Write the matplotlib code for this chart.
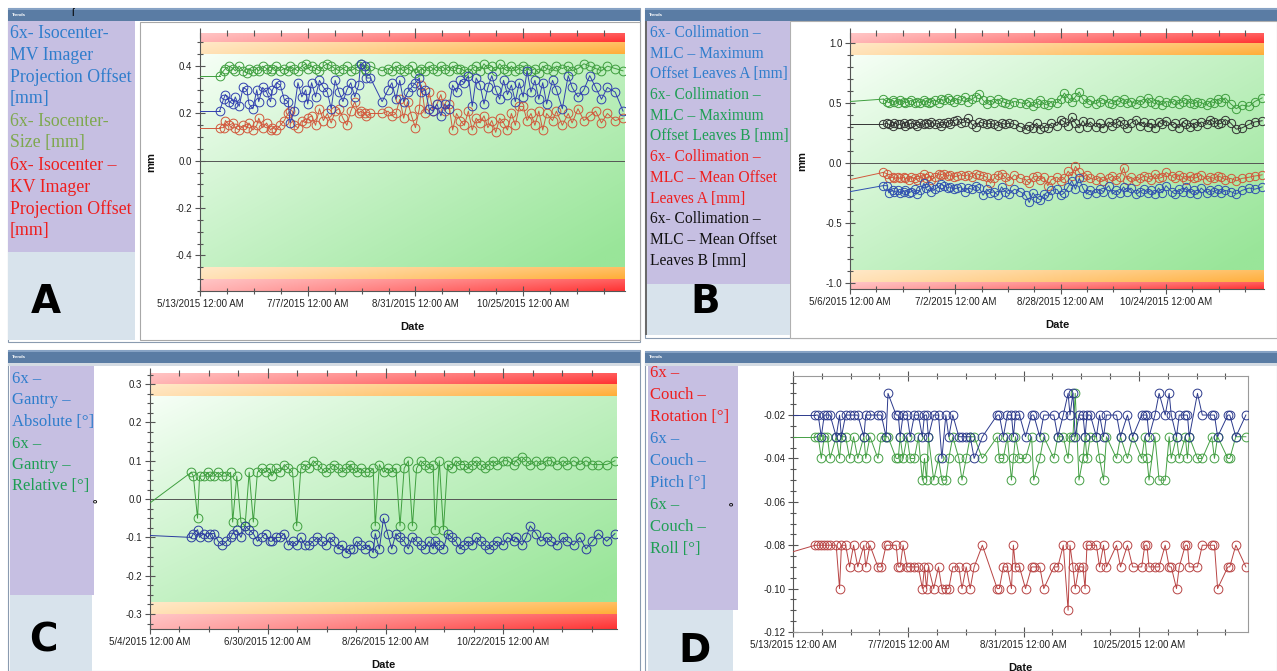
import numpy as np
import matplotlib
matplotlib.use("Agg")
import matplotlib.pyplot as plt
from matplotlib.patches import Rectangle
from matplotlib.ticker import MultipleLocator, FixedLocator, FixedFormatter

plt.rcParams['axes.unicode_minus'] = False
plt.rcParams['font.family'] = ['Liberation Sans', 'DejaVu Sans']

# ------------------------------------------------------------------ data
# Panel A : 6x Isocenter (days after 5/13/2015)
A_days = [10, 12, 13, 15, 17, 18, 20, 22, 24, 25,
          27, 29, 30, 32, 34, 36, 37, 39, 41, 43,
          45, 46, 48, 50, 52, 54, 55, 57, 59, 61,
          63, 65, 67, 69, 71, 73, 75, 77, 79, 81,
          82, 84, 85, 87, 93, 96, 98, 100, 102, 104,
          106, 108, 110, 112, 113, 115, 117, 119, 121, 123,
          125, 127, 129, 131, 133, 135, 137, 139, 141, 143,
          145, 147, 149, 151, 153, 155, 157, 159, 161, 163,
          165, 167, 169, 171, 173, 175, 177, 180, 182, 185,
          188, 190, 193, 196, 199, 202, 205, 208, 212, 216]
A_mv = [0.21, 0.26, 0.28, 0.25, 0.24, 0.27, 0.23, 0.31, 0.30, 0.24,
        0.22, 0.30, 0.25, 0.31, 0.29, 0.25, 0.30, 0.33, 0.32, 0.26,
        0.25, 0.16, 0.21, 0.33, 0.27, 0.30, 0.24, 0.33, 0.27, 0.34,
        0.31, 0.29, 0.22, 0.34, 0.29, 0.25, 0.30, 0.33, 0.27, 0.32,
        0.41, 0.40, 0.35, 0.35, 0.25, 0.30, 0.33, 0.26, 0.34, 0.25,
        0.29, 0.31, 0.33, 0.35, 0.29, 0.30, 0.22, 0.21, 0.24, 0.19,
        0.24, 0.22, 0.32, 0.29, 0.34, 0.33, 0.36, 0.23, 0.35, 0.32,
        0.24, 0.31, 0.36, 0.30, 0.26, 0.34, 0.28, 0.32, 0.25, 0.33,
        0.27, 0.38, 0.29, 0.34, 0.26, 0.33, 0.24, 0.34, 0.30, 0.22,
        0.36, 0.31, 0.27, 0.30, 0.36, 0.31, 0.26, 0.31, 0.29, 0.21]
A_kv = [0.14, 0.14, 0.17, 0.15, 0.16, 0.14, 0.13, 0.15, 0.14, 0.16,
        0.13, 0.15, 0.18, 0.14, 0.16, 0.13, 0.14, 0.13, 0.15, 0.17,
        0.20, 0.21, 0.15, 0.14, 0.17, 0.16, 0.18, 0.19, 0.15, 0.22,
        0.17, 0.20, 0.16, 0.21, 0.22, 0.18, 0.15, 0.21, 0.25, 0.20,
        0.21, 0.20, 0.19, 0.20, 0.20, 0.21, 0.19, 0.20, 0.26, 0.18,
        0.25, 0.19, 0.14, 0.22, 0.32, 0.20, 0.29, 0.21, 0.24, 0.28,
        0.21, 0.24, 0.13, 0.20, 0.17, 0.15, 0.21, 0.13, 0.18, 0.16,
        0.19, 0.14, 0.17, 0.12, 0.18, 0.16, 0.13, 0.20, 0.15, 0.23,
        0.23, 0.17, 0.20, 0.15, 0.21, 0.13, 0.20, 0.17, 0.21, 0.15,
        0.20, 0.16, 0.22, 0.17, 0.19, 0.21, 0.16, 0.20, 0.17, 0.18]
A_size = [0.36, 0.38, 0.39, 0.40, 0.39, 0.38, 0.40, 0.38, 0.37, 0.39,
          0.38, 0.39, 0.38, 0.40, 0.39, 0.38, 0.39, 0.40, 0.38, 0.39,
          0.38, 0.40, 0.39, 0.38, 0.40, 0.41, 0.39, 0.40, 0.39, 0.38,
          0.40, 0.41, 0.40, 0.39, 0.38, 0.39, 0.40, 0.38, 0.39, 0.40,
          0.41, 0.39, 0.38, 0.40, 0.38, 0.39, 0.38, 0.40, 0.39, 0.38,
          0.39, 0.40, 0.37, 0.38, 0.39, 0.38, 0.40, 0.39, 0.38, 0.40,
          0.39, 0.38, 0.40, 0.39, 0.39, 0.38, 0.37, 0.39, 0.40, 0.38,
          0.41, 0.39, 0.40, 0.38, 0.41, 0.39, 0.38, 0.40, 0.38, 0.39,
          0.40, 0.39, 0.38, 0.39, 0.37, 0.40, 0.39, 0.38, 0.40, 0.39,
          0.40, 0.38, 0.39, 0.41, 0.40, 0.39, 0.38, 0.40, 0.39, 0.38]
A_start = {'mv': 0.21, 'kv': 0.14, 'size': 0.36}

# Panel B : MLC collimation (days after 5/6/2015)
B_days = [18, 20, 21, 23, 24, 26, 27, 29, 30, 32,
          33, 35, 36, 38, 40, 41, 43, 44, 46, 48,
          49, 51, 53, 54, 56, 58, 60, 62, 64, 66,
          68, 70, 72, 74, 76, 78, 80, 82, 84, 86,
          89, 92, 95, 97, 99, 101, 103, 105, 107, 109,
          112, 114, 116, 118, 120, 122, 124, 126, 128, 130,
          133, 135, 137, 140, 142, 144, 146, 148, 150, 152,
          155, 157, 159, 161, 163, 165, 167, 169, 171, 174,
          176, 178, 180, 182, 184, 186, 188, 190, 193, 195,
          197, 199, 201, 203, 206, 209, 212, 216, 219, 223]
B_max_b = [0.53, 0.51, 0.50, 0.52, 0.51, 0.50, 0.52, 0.51, 0.50, 0.51,
           0.52, 0.50, 0.51, 0.50, 0.52, 0.51, 0.50, 0.51, 0.52, 0.50,
           0.53, 0.52, 0.54, 0.52, 0.51, 0.53, 0.52, 0.55, 0.51, 0.53,
           0.55, 0.57, 0.52, 0.49, 0.52, 0.50, 0.53, 0.51, 0.50, 0.49,
           0.51, 0.50, 0.49, 0.51, 0.47, 0.50, 0.52, 0.49, 0.48, 0.51,
           0.50, 0.53, 0.58, 0.54, 0.51, 0.55, 0.59, 0.53, 0.50, 0.52,
           0.49, 0.51, 0.53, 0.50, 0.49, 0.52, 0.51, 0.53, 0.50, 0.51,
           0.49, 0.52, 0.50, 0.54, 0.51, 0.49, 0.52, 0.48, 0.51, 0.50,
           0.52, 0.49, 0.51, 0.53, 0.50, 0.49, 0.51, 0.50, 0.48, 0.51,
           0.50, 0.53, 0.51, 0.54, 0.49, 0.45, 0.48, 0.47, 0.51, 0.54]
B_mean_b = [0.32, 0.33, 0.32, 0.31, 0.33, 0.32, 0.32, 0.33, 0.31, 0.32,
            0.33, 0.32, 0.31, 0.33, 0.32, 0.33, 0.32, 0.34, 0.32, 0.33,
            0.31, 0.33, 0.34, 0.32, 0.35, 0.36, 0.33, 0.34, 0.37, 0.32,
            0.30, 0.34, 0.33, 0.32, 0.33, 0.32, 0.31, 0.33, 0.32, 0.33,
            0.32, 0.30, 0.28, 0.31, 0.29, 0.33, 0.28, 0.30, 0.29, 0.33,
            0.31, 0.36, 0.34, 0.31, 0.38, 0.33, 0.29, 0.35, 0.30, 0.34,
            0.30, 0.33, 0.29, 0.34, 0.31, 0.33, 0.35, 0.32, 0.29, 0.33,
            0.36, 0.31, 0.34, 0.30, 0.33, 0.29, 0.34, 0.32, 0.35, 0.31,
            0.33, 0.29, 0.34, 0.32, 0.30, 0.33, 0.31, 0.34, 0.32, 0.36,
            0.34, 0.32, 0.33, 0.36, 0.33, 0.28, 0.29, 0.32, 0.34, 0.35]
B_mean_a = [-0.08, -0.09, -0.13, -0.12, -0.13, -0.12, -0.13, -0.12, -0.13, -0.14,
            -0.12, -0.13, -0.14, -0.12, -0.09, -0.13, -0.11, -0.14, -0.12, -0.09,
            -0.10, -0.09, -0.11, -0.10, -0.12, -0.11, -0.10, -0.11, -0.10, -0.12,
            -0.09, -0.10, -0.11, -0.12, -0.17, -0.13, -0.10, -0.09, -0.12, -0.15,
            -0.10, -0.13, -0.14, -0.17, -0.12, -0.11, -0.14, -0.12, -0.19, -0.14,
            -0.12, -0.15, -0.13, -0.07, -0.11, -0.03, -0.08, -0.12, -0.10, -0.13,
            -0.14, -0.12, -0.15, -0.13, -0.11, -0.14, -0.12, -0.04, -0.14, -0.12,
            -0.15, -0.13, -0.11, -0.12, -0.14, -0.09, -0.13, -0.12, -0.08, -0.11,
            -0.13, -0.10, -0.12, -0.14, -0.11, -0.13, -0.12, -0.10, -0.14, -0.12,
            -0.13, -0.11, -0.12, -0.14, -0.13, -0.15, -0.13, -0.12, -0.11, -0.10]
B_max_a = [-0.19, -0.19, -0.25, -0.23, -0.24, -0.23, -0.25, -0.24, -0.23, -0.25,
           -0.24, -0.22, -0.26, -0.23, -0.17, -0.21, -0.19, -0.24, -0.22, -0.20,
           -0.18, -0.19, -0.21, -0.20, -0.22, -0.21, -0.20, -0.24, -0.21, -0.22,
           -0.19, -0.21, -0.27, -0.22, -0.25, -0.24, -0.27, -0.20, -0.24, -0.26,
           -0.22, -0.24, -0.27, -0.33, -0.25, -0.29, -0.31, -0.26, -0.28, -0.23,
           -0.22, -0.27, -0.25, -0.20, -0.15, -0.22, -0.13, -0.21, -0.26, -0.23,
           -0.25, -0.22, -0.24, -0.19, -0.26, -0.23, -0.25, -0.20, -0.24, -0.21,
           -0.26, -0.24, -0.22, -0.25, -0.23, -0.26, -0.21, -0.25, -0.19, -0.24,
           -0.26, -0.22, -0.24, -0.20, -0.25, -0.23, -0.26, -0.21, -0.25, -0.23,
           -0.24, -0.22, -0.25, -0.23, -0.24, -0.26, -0.23, -0.21, -0.22, -0.20]
B_start = {'max_b': 0.51, 'mean_b': 0.32, 'mean_a': -0.14, 'max_a': -0.24}

# Panel C : Gantry (days after 5/4/2015)
C_days = [20, 21, 23, 24, 26, 28, 29, 31, 33, 35,
          37, 39, 40, 42, 44, 46, 48, 50, 52, 54,
          56, 58, 59, 61, 63, 65, 67, 69, 71, 73,
          75, 77, 79, 81, 83, 85, 87, 89, 91, 93,
          95, 97, 98, 100, 102, 104, 106, 108, 109, 111,
          113, 115, 117, 119, 121, 123, 125, 127, 129, 131,
          133, 135, 137, 138, 140, 142, 144, 146, 148, 150,
          152, 154, 156, 158, 160, 162, 164, 166, 168, 171,
          173, 176, 177, 180, 182, 184, 187, 189, 192, 194,
          197, 200, 202, 205, 208, 211, 214, 217, 221, 225]
C_relative = [0.07, 0.06, -0.05, 0.06, 0.06, 0.07, 0.06, 0.06, 0.07, 0.06,
              0.06, 0.07, -0.06, 0.06, -0.06, -0.07, 0.07, -0.06, 0.07, 0.08,
              0.07, 0.08, 0.06, 0.08, 0.07, 0.09, 0.08, 0.07, -0.07, 0.08,
              0.09, 0.08, 0.10, 0.09, 0.08, 0.07, 0.08, 0.09, 0.08, 0.07,
              0.08, 0.09, 0.08, 0.07, 0.08, 0.07, 0.07, 0.08, -0.07, 0.09,
              0.07, 0.08, 0.07, 0.08, -0.07, 0.08, 0.10, -0.07, 0.08, 0.10,
              0.09, 0.08, 0.09, -0.08, 0.10, -0.08, 0.09, 0.08, 0.10, 0.09,
              0.09, 0.08, 0.09, 0.10, 0.09, 0.08, 0.09, 0.10, 0.09, 0.10,
              0.10, 0.09, 0.10, 0.11, 0.10, 0.09, 0.10, 0.09, 0.10, 0.10,
              0.09, 0.10, 0.09, 0.10, 0.09, 0.10, 0.09, 0.09, 0.09, 0.10]
C_absolute = [-0.10, -0.09, -0.08, -0.10, -0.09, -0.10, -0.09, -0.09, -0.11, -0.12,
              -0.11, -0.10, -0.09, -0.08, -0.10, -0.07, -0.08, -0.09, -0.11, -0.10,
              -0.09, -0.11, -0.11, -0.10, -0.10, -0.09, -0.12, -0.11, -0.12, -0.10,
              -0.12, -0.12, -0.11, -0.10, -0.11, -0.12, -0.10, -0.11, -0.13, -0.12,
              -0.14, -0.13, -0.13, -0.11, -0.12, -0.13, -0.12, -0.14, -0.09, -0.13,
              -0.05, -0.09, -0.13, -0.09, -0.10, -0.11, -0.13, -0.10, -0.11, -0.12,
              -0.13, -0.11, -0.13, -0.11, -0.12, -0.13, -0.09, -0.10, -0.11, -0.13,
              -0.12, -0.11, -0.12, -0.10, -0.11, -0.12, -0.13, -0.12, -0.11, -0.12,
              -0.10, -0.11, -0.10, -0.12, -0.10, -0.07, -0.09, -0.11, -0.10, -0.11,
              -0.12, -0.10, -0.11, -0.12, -0.10, -0.13, -0.11, -0.09, -0.11, -0.09]
C_start = {'relative': -0.01, 'absolute': -0.095}

# Panel D : Couch (days after 5/13/2015)
D_days = [10.6, 12.0, 13.5, 14.9, 16.4, 17.7, 20.6, 22.2, 23.1, 25.1,
          27.0, 28.9, 30.9, 33.8, 34.7, 36.7, 40.5, 42.1, 44.4, 45.3,
          49.2, 50.2, 51.1, 52.5, 54.4, 55.9, 57.9, 59.8, 61.7, 62.7,
          63.7, 64.6, 67.1, 69.4, 71.0, 72.9, 74.3, 76.2, 79.1, 80.6,
          82.6, 84.5, 86.4, 90.3, 97.4, 98.4, 100.3, 102.2, 104.2, 105.1,
          106.1, 108.0, 110.9, 113.8, 114.8, 117.7, 119.6, 124.4, 126.3, 128.9,
          131.2, 132.1, 133.5, 134.6, 136.4, 138.3, 139.3, 140.2, 141.8, 144.7,
          146.2, 148.1, 149.5, 154.3, 156.2, 159.5, 162.0, 166.3, 167.8, 168.8,
          169.8, 172.6, 174.6, 177.5, 179.4, 180.4, 182.9, 184.2, 187.1, 188.1,
          189.0, 192.9, 195.2, 199.7, 201.0, 202.5, 207.4, 208.3, 211.2, 216.0]
D_rotation = [-0.08, -0.08, -0.08, -0.08, -0.08, -0.08, -0.08, -0.10, -0.08, -0.08,
              -0.09, -0.08, -0.09, -0.08, -0.09, -0.08, -0.09, -0.09, -0.08, -0.08,
              -0.08, -0.09, -0.09, -0.08, -0.09, -0.09, -0.09, -0.09, -0.10, -0.09,
              -0.10, -0.09, -0.10, -0.09, -0.10, -0.10, -0.10, -0.09, -0.09, -0.10,
              -0.09, -0.10, -0.09, -0.08, -0.10, -0.10, -0.09, -0.09, -0.10, -0.08,
              -0.09, -0.09, -0.10, -0.09, -0.09, -0.09, -0.10, -0.09, -0.09, -0.08,
              -0.11, -0.08, -0.09, -0.10, -0.09, -0.09, -0.10, -0.08, -0.08, -0.08,
              -0.09, -0.08, -0.09, -0.08, -0.09, -0.08, -0.09, -0.09, -0.08, -0.08,
              -0.09, -0.09, -0.09, -0.08, -0.09, -0.09, -0.10, -0.09, -0.08, -0.08,
              -0.09, -0.09, -0.08, -0.08, -0.08, -0.10, -0.09, -0.09, -0.08, -0.09]
D_pitch = [-0.02, -0.02, -0.03, -0.02, -0.02, -0.02, -0.03, -0.02, -0.03, -0.02,
           -0.02, -0.02, -0.02, -0.03, -0.02, -0.02, -0.02, -0.02, -0.03, -0.01,
           -0.02, -0.02, -0.03, -0.02, -0.02, -0.03, -0.02, -0.02, -0.03, -0.02,
           -0.02, -0.03, -0.02, -0.02, -0.04, -0.02, -0.03, -0.02, -0.03, -0.03,
           -0.03, -0.03, -0.04, -0.03, -0.02, -0.02, -0.03, -0.02, -0.02, -0.03,
           -0.02, -0.02, -0.03, -0.02, -0.02, -0.03, -0.02, -0.02, -0.03, -0.02,
           -0.01, -0.02, -0.01, -0.03, -0.02, -0.02, -0.03, -0.02, -0.02, -0.03,
           -0.02, -0.03, -0.02, -0.02, -0.03, -0.02, -0.03, -0.02, -0.02, -0.02,
           -0.03, -0.02, -0.01, -0.02, -0.01, -0.02, -0.03, -0.02, -0.02, -0.02,
           -0.03, -0.01, -0.02, -0.02, -0.02, -0.03, -0.02, -0.02, -0.03, -0.02]
D_roll = [-0.03, -0.03, -0.04, -0.03, -0.03, -0.04, -0.03, -0.04, -0.03, -0.03,
          -0.04, -0.03, -0.04, -0.03, -0.04, -0.03, -0.04, -0.03, -0.03, -0.03,
          -0.04, -0.04, -0.03, -0.04, -0.03, -0.04, -0.04, -0.03, -0.05, -0.04,
          -0.05, -0.03, -0.05, -0.04, -0.05, -0.05, -0.04, -0.03, -0.04, -0.05,
          -0.04, -0.03, -0.03, -0.04, -0.03, -0.04, -0.04, -0.03, -0.05, -0.04,
          -0.03, -0.04, -0.04, -0.03, -0.05, -0.04, -0.03, -0.04, -0.03, -0.03,
          -0.04, -0.03, -0.03, -0.01, -0.05, -0.04, -0.03, -0.04, -0.03, -0.03,
          -0.04, -0.05, -0.03, -0.04, -0.03, -0.04, -0.03, -0.04, -0.03, -0.04,
          -0.05, -0.03, -0.05, -0.05, -0.03, -0.04, -0.03, -0.04, -0.03, -0.04,
          -0.03, -0.04, -0.04, -0.03, -0.04, -0.03, -0.04, -0.04, -0.03, -0.03]
D_start = {'rotation': -0.083, 'pitch': -0.02, 'roll': -0.03}

# tick labels
A_xlabels = ['5/13/2015 12:00 AM', '7/7/2015 12:00 AM', '8/31/2015 12:00 AM', '10/25/2015 12:00 AM']
B_xlabels = ['5/6/2015 12:00 AM', '7/2/2015 12:00 AM', '8/28/2015 12:00 AM', '10/24/2015 12:00 AM']
C_xlabels = ['5/4/2015 12:00 AM', '6/30/2015 12:00 AM', '8/26/2015 12:00 AM', '10/22/2015 12:00 AM']
D_xlabels = ['5/13/2015 12:00 AM', '7/7/2015 12:00 AM', '8/31/2015 12:00 AM', '10/25/2015 12:00 AM']
A_yticks = [-0.4, -0.2, 0.0, 0.2, 0.4]
B_yticks = [-1.0, -0.5, 0.0, 0.5, 1.0]
C_yticks = [-0.3, -0.2, -0.1, 0.0, 0.1, 0.2, 0.3]
D_yticks = [-0.12, -0.10, -0.08, -0.06, -0.04, -0.02]

# legend texts
LB, LG, LO, LR, LK = '#2f7dcc', '#1f9e55', '#7ea84e', '#ee1e1e', '#111111'
A_legend = [("6x- Isocenter-", LB), ("MV Imager", LB), ("Projection Offset", LB), ("[mm]", LB),
            ("6x- Isocenter-", LO), ("Size [mm]", LO),
            ("6x- Isocenter \u2013", LR), ("KV Imager", LR), ("Projection Offset", LR), ("[mm]", LR)]
B_legend = [("6x- Collimation \u2013", LB), ("MLC \u2013 Maximum", LB), ("Offset Leaves A [mm]", LB),
            ("6x- Collimation \u2013", LG), ("MLC \u2013 Maximum", LG), ("Offset Leaves B [mm]", LG),
            ("6x- Collimation \u2013", LR), ("MLC \u2013 Mean Offset", LR), ("Leaves A [mm]", LR),
            ("6x- Collimation \u2013", LK), ("MLC \u2013 Mean Offset", LK), ("Leaves B [mm]", LK)]
C_legend = [("6x \u2013", LB), ("Gantry \u2013", LB), ("Absolute [\u00b0]", LB),
            ("6x \u2013", LG), ("Gantry \u2013", LG), ("Relative [\u00b0]", LG)]
D_legend = [("6x \u2013", LR), ("Couch \u2013", LR), ("Rotation [\u00b0]", LR),
            ("6x \u2013", LB), ("Couch \u2013", LB), ("Pitch [\u00b0]", LB),
            ("6x \u2013", LG), ("Couch \u2013", LG), ("Roll [\u00b0]", LG)]

# ------------------------------------------------------------------ layout
W, H = 1277, 671
fig = plt.figure(figsize=(W / 100, H / 100), dpi=100)
fig.patch.set_facecolor('white')

bg = fig.add_axes([0, 0, 1, 1])
bg.set_xlim(0, W)
bg.set_ylim(H, 0)
bg.axis('off')


def frac(x0, y0, x1, y1):
    return [x0 / W, 1 - y1 / H, (x1 - x0) / W, (y1 - y0) / H]


def box(x0, y0, x1, y1, fc, ec='none', lw=0.0, z=1):
    bg.add_patch(Rectangle((x0, y0), x1 - x0, y1 - y0, facecolor=fc,
                           edgecolor=ec, linewidth=lw, zorder=z))


def title_bar(x0, y0, x1, y1):
    box(x0, y0, x1, y1, '#5a7ca4', z=2)
    box(x0, y0, x1, y0 + 1.5, '#86a2c4', z=2)
    bg.text(x0 + 4, (y0 + y1) / 2, 'Trends', color='white', fontsize=3.2,
            fontweight='bold', va='center', ha='left', zorder=3)


def legend(lines, x, y0, step, size):
    for i, (t, c) in enumerate(lines):
        bg.text(x, y0 + i * step, t, color=c, fontsize=size, family='Liberation Serif',
                va='center', ha='left', zorder=3)


def big_letter(x, y, s):
    bg.text(x, y, s, fontsize=28, fontweight='bold', family='DejaVu Sans',
            ha='center', va='center', color='black', zorder=3)


# Panel frames
box(8, 8, 640, 342, 'white', ec='#8a9bb0', lw=0.8)
title_bar(8, 8, 640, 21)
box(8, 21, 135, 252, '#c6bfe2', z=2)
box(8, 252, 135, 340, '#d8e3ec', z=2)
box(140, 22, 640, 340, 'white', ec='#a8a8a8', lw=0.8, z=2)
bg.text(72, 13, '\u017f', fontsize=8, color='black', ha='center', va='center', zorder=4)

box(645, 8, 1277, 338, 'white', ec='#8a9bb0', lw=0.8)
title_bar(645, 8, 1277, 21)
box(790, 21, 1277, 338, 'white', ec='#b0b0b0', lw=0.8, z=2)
box(647, 21, 790, 284, '#c6bfe2', z=2)
box(647, 284, 790, 335, '#d8e3ec', z=2)
box(645, 21, 647, 335, '#6a6a6a', z=2)

box(8, 350, 640, 671, 'white', ec='#8a9bb0', lw=0.8)
title_bar(8, 350, 640, 363)
box(8, 363, 640, 366, '#d4dbe3', z=2)
box(10, 366, 94, 595, '#c6bfe2', z=2)
box(10, 595, 92, 671, '#d8e3ec', z=2)

box(645, 351, 1277, 671, 'white', ec='#8a9bb0', lw=0.8)
title_bar(645, 351, 1277, 363)
box(645, 363, 1277, 366, '#d4dbe3', z=2)
box(648, 366, 738, 610, '#c6bfe2', z=2)
box(648, 610, 733, 671, '#d8e3ec', z=2)

legend(A_legend, 10, 33, 22.0, 12.8)
legend(B_legend, 650, 33, 20.7, 11.2)
legend(C_legend, 12, 379, 21.5, 12)
legend(D_legend, 650, 373, 22.0, 12)

big_letter(46, 302, 'A')
big_letter(705, 302, 'B')
big_letter(43, 640, 'C')
big_letter(695, 651, 'D')

# ------------------------------------------------------------------ plot helpers
RED = np.array([1.0, 0.20, 0.20])
ORANGE = np.array([1.0, 0.68, 0.22])


def gradient_bg(ax, x0, x1, y0, y1):
    nx, ny = 256, 128
    u = np.linspace(0, 1, nx)[None, :, None]
    v = np.linspace(0, 1, ny)[:, None, None]
    t = np.clip(0.55 * u + 0.5 * v, 0, 1) ** 0.9
    top = np.array([0.97, 1.0, 0.97])
    end = np.array([0.60, 0.90, 0.60])
    img = top * (1 - t) + end * t
    ax.imshow(img, extent=[x0, x1, y0, y1], origin='upper', aspect='auto',
              zorder=0, interpolation='bilinear')


def band(ax, x0, x1, y0, y1, col):
    nx, ny = 256, 24
    u = np.linspace(0, 1, nx)[None, :, None]
    w = np.linspace(0, 1, ny)[:, None, None]
    s = (0.36 + 0.64 * u) * (0.78 + 0.22 * w)
    img = np.ones(3) * (1 - s) + col * s
    ax.imshow(img, extent=[x0, x1, y0, y1], origin='upper', aspect='auto',
              zorder=0, interpolation='bilinear')


def make_axes(rect, xmax, ylim, yticks, yfmt, minor_y, xstep, xlabels,
              ylabel, ylab_x, bands=None):
    ax = fig.add_axes(frac(*rect))
    ylo, yhi = ylim
    if bands is not None:
        inner_o, inner_r = bands
        gradient_bg(ax, 0, xmax, -inner_o, inner_o)
        band(ax, 0, xmax, inner_o, inner_r, ORANGE)
        band(ax, 0, xmax, inner_r, yhi, RED)
        band(ax, 0, xmax, -inner_r, -inner_o, ORANGE)
        band(ax, 0, xmax, ylo, -inner_r, RED)
        ax.axhline(0, color='#555555', lw=0.7, zorder=1)
        for s in ('top', 'right'):
            ax.spines[s].set_visible(False)
        for s in ('left', 'bottom'):
            ax.spines[s].set_color('#555555')
            ax.spines[s].set_linewidth(0.8)
    else:
        ax.set_facecolor('white')
        for s in ('top', 'right', 'bottom'):
            ax.spines[s].set_color('#9a9a9a')
            ax.spines[s].set_linewidth(0.8)
        ax.spines['left'].set_color('#555555')
    ax.set_xlim(0, xmax)
    ax.set_ylim(ylo, yhi)
    ax.yaxis.set_major_locator(FixedLocator(yticks))
    ax.yaxis.set_major_formatter(FixedFormatter([yfmt % v for v in yticks]))
    ax.yaxis.set_minor_locator(MultipleLocator(minor_y))
    xt = [xstep * i for i in range(len(xlabels))]
    ax.xaxis.set_major_locator(FixedLocator(xt))
    ax.xaxis.set_major_formatter(FixedFormatter(xlabels))
    ax.xaxis.set_minor_locator(MultipleLocator(xstep / 4))
    ax.tick_params(which='both', direction='inout', top=True, color='#555555',
                   width=0.8, labelsize=7, labelcolor='#222222')
    ax.tick_params(which='major', length=7, pad=2)
    ax.tick_params(which='minor', length=4)
    ax.set_xlabel('Date', fontsize=8, fontweight='bold', color='#111111')
    ax.xaxis.set_label_coords(0.5, -0.12)
    ax.set_ylabel(ylabel, fontsize=8, fontweight='bold', color='#111111')
    ax.yaxis.set_label_coords(ylab_x, 0.5)
    return ax


def series(ax, days, vals, start, color, ms=6.3):
    ax.plot([0, days[0]], [start, vals[0]], color=color, lw=0.7, zorder=3)
    ax.plot(days, vals, color=color, lw=0.7, marker='o', ms=ms, mfc='none',
            mec=color, mew=0.7, zorder=3)


# ------------------------------------------------------------------ panels
axA = make_axes((200, 33, 625, 291), 217, (-0.55, 0.54), A_yticks, '%.1f', 0.05,
                55, A_xlabels, 'mm', -0.104, bands=(0.45, 0.50))
series(axA, A_days, A_size, A_start['size'], '#3f9f3f')
series(axA, A_days, A_kv, A_start['kv'], '#d2583c')
series(axA, A_days, A_mv, A_start['mv'], '#3240b0')

axB = make_axes((850, 33, 1264, 289), 224, (-1.05, 1.08), B_yticks, '%.1f', 0.1,
                57, B_xlabels, 'mm', -0.104, bands=(0.9, 1.0))
series(axB, B_days, B_max_b, B_start['max_b'], '#3f9f3f', ms=6)
series(axB, B_days, B_mean_b, B_start['mean_b'], '#333333', ms=6)
series(axB, B_days, B_mean_a, B_start['mean_a'], '#d2583c', ms=6)
series(axB, B_days, B_max_a, B_start['max_a'], '#3050b0', ms=6)

axC = make_axes((150, 373, 617, 629), 226, (-0.339, 0.329), C_yticks, '%.1f', 0.025,
                57, C_xlabels, '\u00b0', -0.098, bands=(0.27, 0.30))
series(axC, C_days, C_relative, C_start['relative'], '#3f9f3f')
series(axC, C_days, C_absolute, C_start['absolute'], '#2a3aa0')

axD = make_axes((793, 376, 1248, 632), 217, (-0.12, -0.002), D_yticks, '%.2f', 0.005,
                55, D_xlabels, '\u00b0', -0.115, bands=None)
series(axD, D_days, D_roll, D_start['roll'], '#45a045')
series(axD, D_days, D_pitch, D_start['pitch'], '#2c3a8c')
series(axD, D_days, D_rotation, D_start['rotation'], '#b84444')

fig.savefig('out.png', dpi=100)
